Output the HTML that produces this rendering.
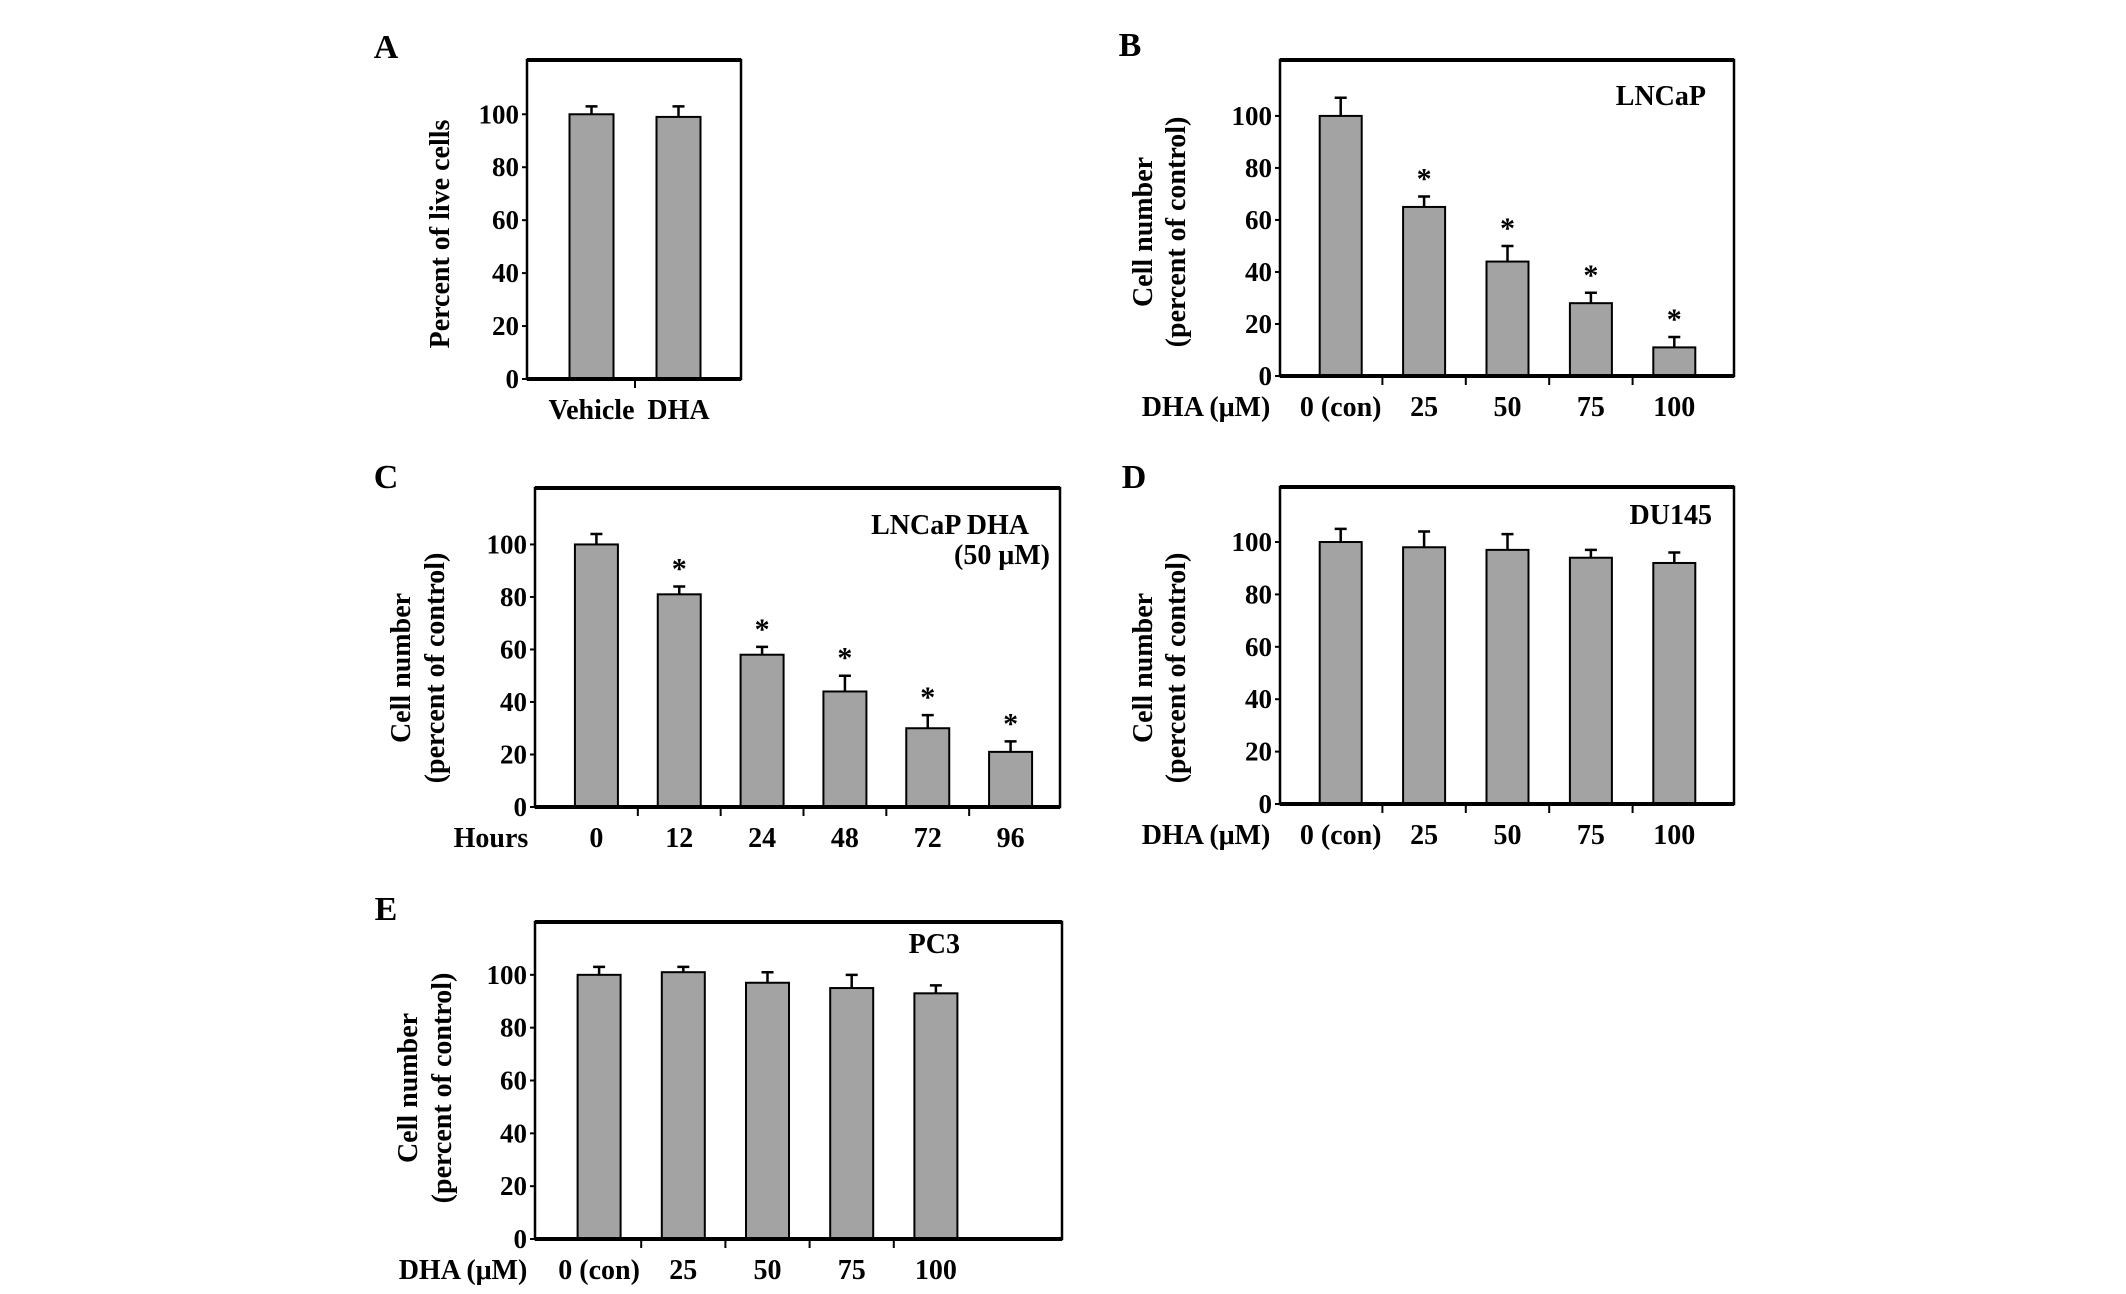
<!DOCTYPE html>
<html><head><meta charset="utf-8"><style>
body{margin:0;background:#fff;}
svg{display:block;}
text{font-family:"Liberation Serif",serif;font-weight:bold;fill:#000;}
</style></head><body>
<svg id="fig" width="2126" height="1294" viewBox="0 0 2126 1294" xmlns="http://www.w3.org/2000/svg"></svg>
<script>
// Panel data
const aCats = ["Vehicle","DHA"];
const aVals = [100, 99];
const aErr = [3, 4];
const bCats = ["0 (con)","25","50","75","100"];
const bVals = [100, 65, 44, 28, 11];
const bErr = [7, 4, 6, 4, 4];
const bStar = [false,true,true,true,true];
const cCats = ["0","12","24","48","72","96"];
const cVals = [100, 81, 58, 44, 30, 21];
const cErr = [4, 3, 3, 6, 5, 4];
const cStar = [false,true,true,true,true,true];
const dCats = ["0 (con)","25","50","75","100"];
const dVals = [100, 98, 97, 94, 92];
const dErr = [5, 6, 6, 3, 4];
const eCats = ["0 (con)","25","50","75","100"];
const eVals = [100, 101, 97, 95, 93];
const eErr = [3, 2, 4, 5, 3];
const yTicks = [0,20,40,60,80,100];

const NS="http://www.w3.org/2000/svg";
const svg=document.getElementById('fig');
function mk(tag,attrs,parent,txt){const e=document.createElementNS(NS,tag);for(const k in attrs)e.setAttribute(k,attrs[k]);if(txt!==undefined)e.textContent=txt;(parent||svg).appendChild(e);return e;}

function panel(p){
  const g=mk('g',{});
  
  
  const y=v=>p.y0-(v/p.vmax)*(p.y0-p.top);
  const n=p.cats.length;
  const slot=(p.catR-p.catL)/n;
  const xc=i=>p.catL+slot*(i+0.5);
  const L=mk('text',{x:p.lx,y:p.ly,'font-size':34,'text-anchor':'middle'},g,p.id.toUpperCase());
  
  
  p.vals.forEach((v,i)=>{
    const cx=xc(i);
    const r=mk('rect',{x:cx-p.bw/2,y:y(v),width:p.bw,height:p.y0-y(v),fill:'#a3a3a3',stroke:'#000','stroke-width':2},g);
    
    
    const t=y(v+p.errs[i]);
    const e=mk('path',{d:`M${cx} ${y(v)}V${t}M${cx-6} ${t}H${cx+6}`,stroke:'#000','stroke-width':2.5,fill:'none'},g);
    
    
    if(p.stars&&p.stars[i]){
      const s=mk('text',{x:cx,y:t-8,'font-size':30,'font-weight':'normal','text-anchor':'middle'},g,'*');
      
      
    }
    const lb=mk('text',{x:cx,y:p.y0+40,'font-size':28,'text-anchor':'middle'},g,p.cats[i]);
    
    
    if(i<n-1){
      const tx=p.catL+slot*(i+1);
      const tk=mk('line',{x1:tx,x2:tx,y1:p.y0,y2:p.y0+9,stroke:'#000','stroke-width':2},g);
      
      
    }
  });
  const f=mk('rect',{x:p.left,y:p.top,width:p.right-p.left,height:p.y0-p.top,fill:'none',stroke:'#000','stroke-width':2.5},g);
  
  
  mk('line',{x1:p.left,x2:p.right,y1:p.top,y2:p.top,stroke:'#000','stroke-width':4},g);
  mk('line',{x1:p.left,x2:p.right,y1:p.y0,y2:p.y0,stroke:'#000','stroke-width':4},g);
  yTicks.forEach(v=>{
    mk('line',{x1:p.left-5,x2:p.left,y1:y(v),y2:y(v),stroke:'#000','stroke-width':2},g);
    const t=mk('text',{x:p.left-8,y:y(v)+9,'font-size':27,'text-anchor':'end'},g,String(v));
    
    
  });
  p.ytitle.forEach((s,k)=>{
    const t=mk('text',{x:0,y:0,'font-size':28,'text-anchor':'middle',transform:`translate(${p.tx[k]},${p.ty}) rotate(-90)`},g,s);
    
    
  });
  if(p.xtitle){
    const t=mk('text',{x:p.xtx,y:p.y0+40,'font-size':28,'text-anchor':'middle'},g,p.xtitle);
    
    
  }
  (p.legend||[]).forEach(l=>{
    const t=mk('text',{x:l[0],y:l[1],'font-size':28,'text-anchor':'end'},g,l[2]);
    
    
  });
}

panel({id:'a',cats:aCats,vals:aVals,errs:aErr,left:527,right:741,top:60,y0:379,vmax:120.5,bw:44,catL:548,catR:722,lx:386,ly:58,
  ytitle:['Percent of live cells'],tx:[449],ty:234});
panel({id:'b',cats:bCats,vals:bVals,errs:bErr,stars:bStar,left:1280,right:1734,top:60,y0:376,vmax:121.5,bw:42,catL:1299,catR:1716,lx:1130,ly:56,
  ytitle:['Cell number','(percent of control)'],tx:[1152,1185],ty:232,xtitle:'DHA (μM)',xtx:1206,legend:[[1706,105,'LNCaP']]});
panel({id:'c',cats:cCats,vals:cVals,errs:cErr,stars:cStar,left:535,right:1060,top:488,y0:807,vmax:121.5,bw:43,catL:555,catR:1052,lx:386,ly:488,
  ytitle:['Cell number','(percent of control)'],tx:[410,444],ty:668,xtitle:'Hours',xtx:491,legend:[[1029,534,'LNCaP  DHA'],[1050,564,'(50 μM)']]});
panel({id:'d',cats:dCats,vals:dVals,errs:dErr,left:1280,right:1734,top:487,y0:804,vmax:121,bw:42,catL:1299,catR:1716,lx:1134,ly:488,
  ytitle:['Cell number','(percent of control)'],tx:[1152,1185],ty:668,xtitle:'DHA (μM)',xtx:1206,legend:[[1712,524,'DU145']]});
panel({id:'e',cats:eCats,vals:eVals,errs:eErr,left:535,right:1062,top:922,y0:1239,vmax:120,bw:43,catL:557,catR:978,lx:386,ly:920,
  ytitle:['Cell number','(percent of control)'],tx:[417,451],ty:1088,xtitle:'DHA (μM)',xtx:463,legend:[[960,953,'PC3']]});
</script>
</body></html>
